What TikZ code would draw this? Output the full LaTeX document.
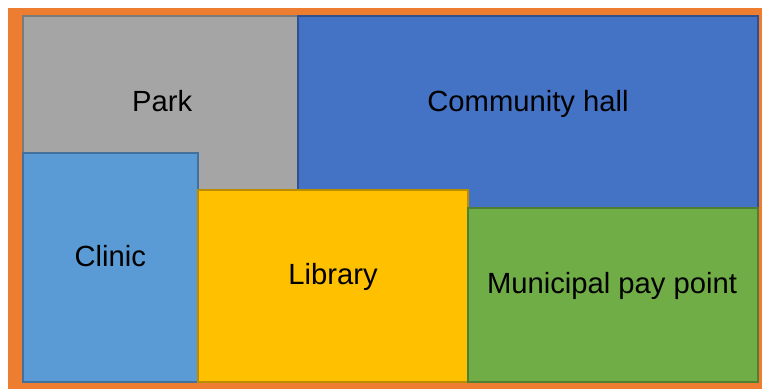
\documentclass[tikz,border=0pt]{standalone}
\usepackage{fontspec}
\setmainfont{Liberation Sans}
\definecolor{orangebg}{HTML}{ED7D31}
\definecolor{parkfill}{HTML}{A5A5A5}
\definecolor{parkline}{HTML}{7B7B7B}
\definecolor{hallfill}{HTML}{4472C4}
\definecolor{hallline}{HTML}{2F528F}
\definecolor{clinicfill}{HTML}{5B9BD5}
\definecolor{clinicline}{HTML}{41719C}
\definecolor{libfill}{HTML}{FFC000}
\definecolor{libline}{HTML}{BC8C00}
\definecolor{payfill}{HTML}{70AD47}
\definecolor{payline}{HTML}{507E32}
\tikzset{
  zone/.style={line width=2pt},
  label/.style={anchor=base, inner sep=0pt, font=\fontsize{29.2}{35}\selectfont, text=black}
}
\begin{document}
\begin{tikzpicture}[x=1pt,y=1pt]
\useasboundingbox (0,0) rectangle (762,389);
\fill[white] (0,0) rectangle (762,389);
\fill[orangebg] (8,0) rectangle (762,381);
\draw[zone, fill=parkfill, draw=parkline] (23,373) rectangle (298,189);
\draw[zone, fill=hallfill, draw=hallline] (298,373) rectangle (758,181);
\draw[zone, fill=clinicfill, draw=clinicline] (23,236) rectangle (198,7);
\draw[zone, fill=libfill, draw=libline] (198,199) rectangle (468,7);
\draw[zone, fill=payfill, draw=payline] (468,181) rectangle (758,7);
\node[label] (park) at (162.2,278) {Park};
\node[label] (hall) at (528,278) {Community hall};
\node[label] (clinic) at (110.3,122.3) {Clinic};
\node[label] (lib) at (333,104.5) {Library};
\node[label] (pay) at (612,95.7) {Municipal pay point};
\end{tikzpicture}
\end{document}
